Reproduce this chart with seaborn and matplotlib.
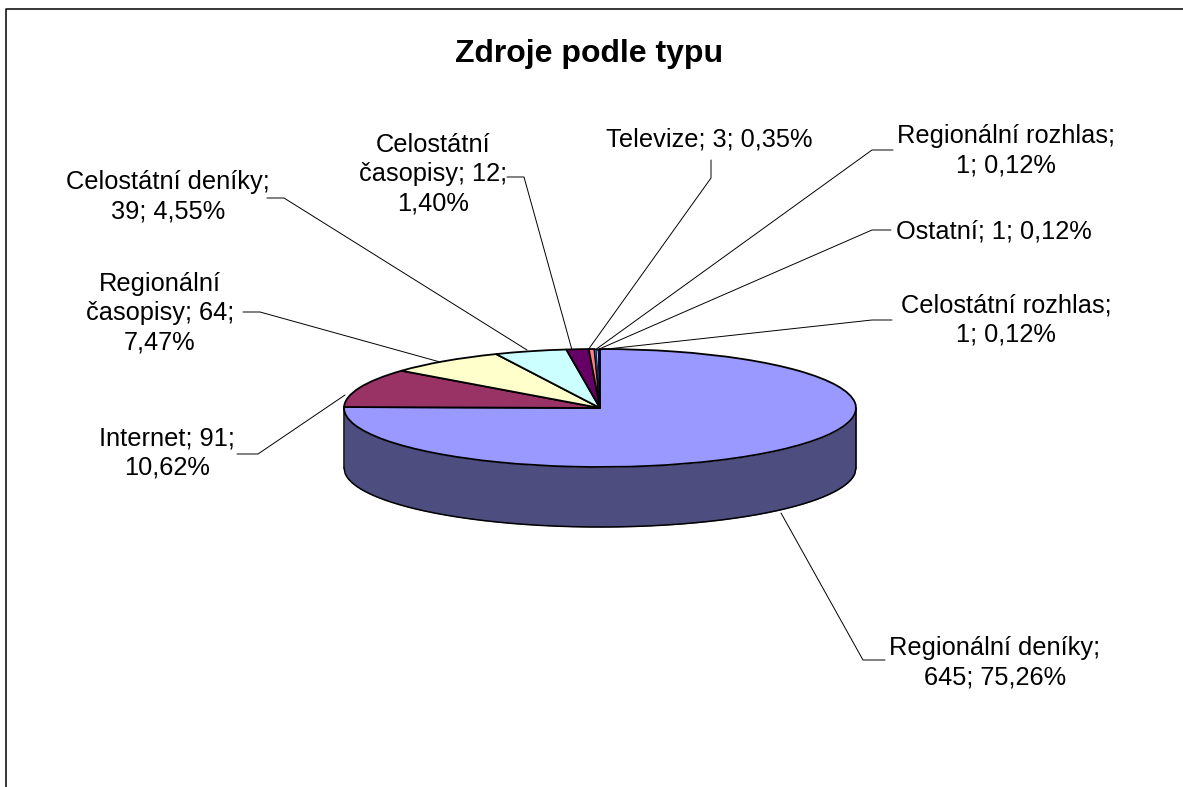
import numpy as np
import seaborn as sns
import matplotlib.pyplot as plt

sns.set_theme(style='white')
plt.rcParams['font.family'] = ['Liberation Sans', 'DejaVu Sans']

title = 'Zdroje podle typu'
categories = ['Regionální deníky', 'Internet', 'Regionální časopisy', 'Celostátní deníky',
              'Celostátní časopisy', 'Televize', 'Regionální rozhlas', 'Ostatní', 'Celostátní rozhlas']
values = [645, 91, 64, 39, 12, 3, 1, 1, 1]
percents = ['75,26%', '10,62%', '7,47%', '4,55%', '1,40%', '0,35%', '0,12%', '0,12%', '0,12%']
colors = ['#9999FF', '#993366', '#FFFFCC', '#CCFFFF', '#660066', '#FF8080', '#0066CC', '#CCCCFF', '#000080']
side_color = '#4D4D80'

# label text as wrapped in the chart, same order as categories
label_text = ['Regionální deníky;\n645; 75,26%', 'Internet; 91;\n10,62%', 'Regionální\nčasopisy; 64;\n7,47%',
              'Celostátní deníky;\n39; 4,55%', 'Celostátní\nčasopisy; 12;\n1,40%', 'Televize; 3; 0,35%',
              'Regionální rozhlas;\n1; 0,12%', 'Ostatní; 1; 0,12%', 'Celostátní rozhlas;\n1; 0,12%']
label_pos = [(995, 663), (167, 453), (160, 313), (168, 197), (433, 174), (709, 140), (1006, 151), (994, 231), (1006, 320)]
leaders = [[(781, 513), (863, 660), (885, 660)],
           [(345, 395), (258, 454), (237, 454)],
           [(440, 362), (260, 312), (243, 312)],
           [(527, 350), (284, 198), (267, 198)],
           [(572, 350), (524, 177), (507, 177)],
           [(588, 350), (711, 178), (711, 160)],
           [(595, 350), (872, 150), (893, 150)],
           [(597, 350), (872, 230), (891, 230)],
           [(598, 350), (872, 320), (892, 320)]]

W, H = 1183, 787
cx, cy, rx, ry, depth = 600, 408, 256, 59, 60

fig = plt.figure(figsize=(W / 100, H / 100), dpi=100, facecolor='white')

# pixel overlay for frame, leaders and text
ax_top = fig.add_axes([0, 0, 1, 1], zorder=2)
ax_top.set_xlim(0, W)
ax_top.set_ylim(H, 0)
ax_top.axis('off')

# the flattened pie
ax = fig.add_axes([(cx - rx) / W, 1 - (cy + ry) / H, 2 * rx / W, 2 * ry / H], zorder=1)
x = np.linspace(-1, 1, 400)
lower = -np.sqrt(1 - x ** 2)
d = depth / ry
ax.fill_between(x, lower - d, lower, color=side_color, clip_on=False, lw=0)
ax.plot(x, lower - d, color='black', lw=1.1, clip_on=False)
ax.plot([-1, -1], [0, -d], color='black', lw=1.1, clip_on=False)
ax.plot([1, 1], [0, -d], color='black', lw=1.1, clip_on=False)
wedges, _ = ax.pie(values, colors=sns.color_palette(colors), startangle=90, counterclock=False,
                   wedgeprops={'edgecolor': 'black', 'linewidth': 1.3})
for w in wedges:
    w.set_clip_on(False)
for w in wedges[-3:]:
    w.set_linewidth(0.5)
ax.set_aspect('auto')
ax.set_xlim(-1, 1)
ax.set_ylim(-1, 1)

ax_top.plot([6, 6, W], [H, 8.5, 8.5], color='black', lw=1.1, clip_on=False)
for pts in leaders:
    ax_top.plot([p[0] for p in pts], [p[1] for p in pts], color='black', lw=0.7)
for txt, pos in zip(label_text, label_pos):
    ax_top.text(pos[0], pos[1], txt, ha='center', va='center', fontsize=18.3, color='black', linespacing=1.27)
ax_top.text(589, 54, title, ha='center', va='center', fontsize=23, fontweight='bold', color='black')

fig.savefig('out.png', dpi=100)
